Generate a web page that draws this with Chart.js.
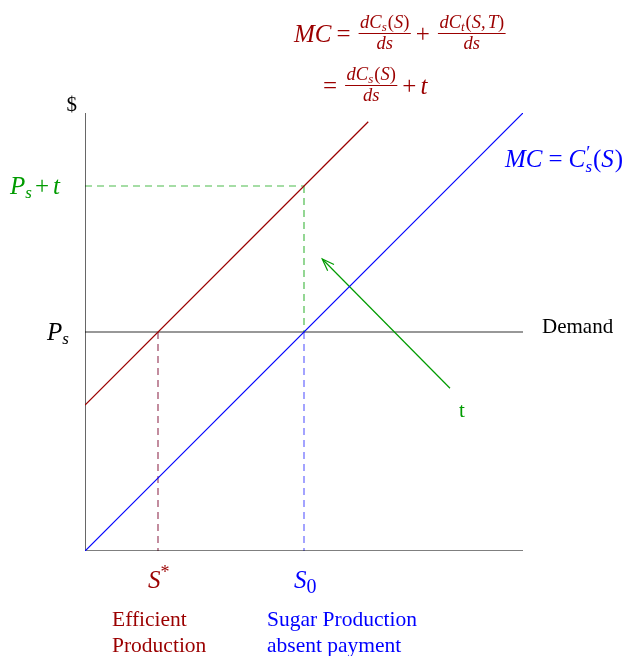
<!DOCTYPE html>
<html><head><meta charset="utf-8">
<script src="https://cdn.jsdelivr.net/npm/chart.js@4"></script>
<style>html,body{margin:0;padding:0;background:#fff}canvas{display:block}</style>
</head><body>
<canvas id="c" width="625" height="656"></canvas>
<script>
// ---- data ----
const supplyX = [0, 6];          // MC = C's(S)
const supplyY = [0, 6];
const mcTaxX = [0, 3.88];        // MC with payment t
const mcTaxY = [2, 5.88];
const demandX = [0, 6];
const demandY = [3, 3];
const axisX = [0, 6];
const axisYTop = 6;
const ps = 3;
const psPlusT = 5;
const sStar = 1;
const s0 = 3;
const arrowX = [5, 3.25];
const arrowY = [2.23, 4.0];

const RED = 'rgb(155,0,0)', BLUE = 'rgb(0,0,255)', GREEN = 'rgb(0,155,0)';
const SERIF = '"Liberation Serif", "DejaVu Serif", serif';

function pts(xs, ys){ return xs.map((x,i)=>({x, y: ys[i]})); }
function ds(data, color, extra){ return Object.assign({data, borderColor: color, backgroundColor: color, borderWidth: 1.2, showLine: true, pointRadius: 0, fill: false, tension: 0}, extra||{}); }

function font(p){ return (p.i ? 'italic ' : '') + p.s + 'px ' + SERIF; }
function measure(ctx, parts){ let w=0; for(const p of parts){ ctx.font=font(p); w += ctx.measureText(p.t).width + (p.g||0);} return w; }
function drawParts(ctx, x, y, parts){ for(const p of parts){ ctx.font=font(p); ctx.fillText(p.t, x, y+(p.dy||0)); x += ctx.measureText(p.t).width + (p.g||0);} return x; }
function frac(ctx, x, y, num, den){
  const wn = measure(ctx, num), wd = measure(ctx, den);
  const w = Math.max(wn, wd) + 3;
  drawParts(ctx, x + (w-wn)/2, y-14, num);
  drawParts(ctx, x + (w-wd)/2, y+7, den);
  ctx.fillRect(x, y-9, w, 1);
  return x + w;
}

const labels = {
  id: 'labels',
  afterDatasetsDraw(chart){
    const ctx = chart.ctx, sx = chart.scales.x, sy = chart.scales.y;
    ctx.save();
    ctx.textBaseline = 'alphabetic';
    // arrow head
    const x1 = sx.getPixelForValue(arrowX[0]), y1 = sy.getPixelForValue(arrowY[0]);
    const x2 = sx.getPixelForValue(arrowX[1]), y2 = sy.getPixelForValue(arrowY[1]);
    const a = Math.atan2(y2-y1, x2-x1);
    ctx.strokeStyle = GREEN; ctx.lineWidth = 1.2;
    ctx.beginPath();
    ctx.moveTo(x2 - 13*Math.cos(a-0.35), y2 - 13*Math.sin(a-0.35));
    ctx.lineTo(x2, y2);
    ctx.lineTo(x2 - 13*Math.cos(a+0.35), y2 - 13*Math.sin(a+0.35));
    ctx.stroke();

    const ox = sx.getPixelForValue(0);
    // $ label
    ctx.fillStyle = '#000';
    ctx.font = '21px ' + SERIF; ctx.textAlign='right';
    ctx.fillText('$', ox - 8, sy.getPixelForValue(axisYTop) - 2);
    ctx.textAlign='left';
    // Ps + t
    ctx.fillStyle = GREEN;
    let yy = sy.getPixelForValue(psPlusT) + 8;
    drawParts(ctx, 10, yy, [{t:'P',i:1,s:25},{t:'s',i:1,s:17,dy:4,g:3},{t:'+',s:25,g:4},{t:'t',i:1,s:25}]);
    // Ps
    ctx.fillStyle = '#000';
    yy = sy.getPixelForValue(ps) + 8;
    drawParts(ctx, 47, yy, [{t:'P',i:1,s:25},{t:'s',i:1,s:17,dy:4}]);
    // Demand
    ctx.font = '21px ' + SERIF;
    ctx.fillText('Demand', sx.getPixelForValue(demandX[1]) + 19, sy.getPixelForValue(ps) + 1);
    // t
    ctx.fillStyle = GREEN; ctx.font = '21px ' + SERIF;
    ctx.fillText('t', x1 + 9, y1 + 29);
    // MC = C's(S)
    ctx.fillStyle = BLUE;
    drawParts(ctx, 505, 167, [{t:'MC',i:1,s:25,g:6},{t:'=',s:25,g:6},{t:'C',i:1,s:25,g:1},{t:'\u2032',s:19,dy:-8,g:-5},{t:'s',i:1,s:17,dy:5,g:1},{t:'(',s:25},{t:'S',i:1,s:25,g:1},{t:')',s:25}]);
    // S* and S0
    const by = sy.getPixelForValue(0) + 37;
    ctx.fillStyle = RED;
    drawParts(ctx, sx.getPixelForValue(sStar) - 10, by, [{t:'S',i:1,s:25},{t:'*',s:18,dy:-10}]);
    ctx.fillStyle = BLUE;
    drawParts(ctx, sx.getPixelForValue(s0) - 10, by, [{t:'S',i:1,s:25},{t:'0',s:20,dy:5}]);
    // descriptions
    ctx.font = '21.5px ' + SERIF;
    ctx.fillStyle = RED;
    ctx.fillText('Efficient', 112, 626);
    ctx.fillText('Production', 112, 652);
    ctx.fillStyle = BLUE;
    ctx.fillText('Sugar Production', 267, 626);
    ctx.fillText('absent payment', 267, 652);
    // formula
    ctx.fillStyle = RED;
    const numA = [{t:'dC',i:1,s:18.5},{t:'s',i:1,s:13,dy:3,g:1},{t:'(',s:18.5},{t:'S',i:1,s:18.5},{t:')',s:18.5}];
    const numB = [{t:'dC',i:1,s:18.5},{t:'t',i:1,s:13,dy:3,g:1},{t:'(',s:18.5},{t:'S,',i:1,s:18.5,g:2},{t:'T',i:1,s:18.5},{t:')',s:18.5}];
    const den = [{t:'ds',i:1,s:18.5}];
    let x = drawParts(ctx, 294, 42, [{t:'MC',i:1,s:25,g:5},{t:'=',s:25,g:8}]);
    x = frac(ctx, x, 42, numA, den);
    x = drawParts(ctx, x + 5, 42, [{t:'+',s:25,g:8}]);
    frac(ctx, x, 42, numB, den);
    x = drawParts(ctx, 323, 94, [{t:'=',s:25,g:8}]);
    x = frac(ctx, x, 94, numA, den);
    drawParts(ctx, x + 5, 94, [{t:'+',s:25,g:4},{t:'t',i:1,s:25}]);
    ctx.restore();
  }
};

new Chart(document.getElementById('c'), {
  type: 'scatter',
  data: { datasets: [
    ds(pts(supplyX, supplyY), BLUE),
    ds(pts(mcTaxX, mcTaxY), RED),
    ds(pts(arrowX, arrowY), GREEN),
    ds(pts([0,0],[0,axisYTop]), '#000'),
    ds(pts(axisX,[0,0]), '#000'),
    ds(pts(demandX, demandY), '#333'),
    ds(pts([0,s0],[psPlusT,psPlusT]), 'rgba(0,160,0,0.7)', {borderDash:[7,5]}),
    ds(pts([s0,s0],[psPlusT,ps]), 'rgba(0,160,0,0.7)', {borderDash:[7,5]}),
    ds(pts([s0,s0],[ps,0]), 'rgba(0,0,255,0.6)', {borderDash:[7,5]}),
    ds(pts([sStar,sStar],[ps,0]), 'rgba(120,0,40,0.75)', {borderDash:[7,5]})
  ]},
  options: {
    responsive: false, animation: false, events: [],
    layout: { padding: { left: 85, right: 102, top: 113, bottom: 105 } },
    plugins: { legend: {display:false}, tooltip: {enabled:false} },
    scales: {
      x: { type:'linear', min:0, max:6, display:false },
      y: { type:'linear', min:0, max:6, display:false }
    }
  },
  plugins: [labels]
});
</script>
</body></html>
